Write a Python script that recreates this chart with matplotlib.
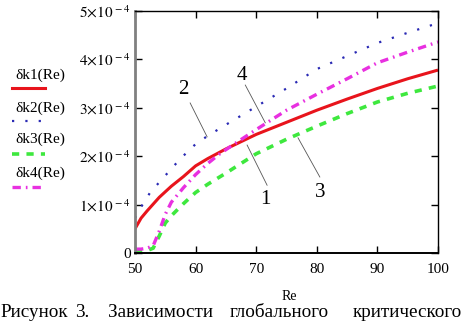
import matplotlib
matplotlib.use("Agg")
import matplotlib.pyplot as plt
from matplotlib.lines import Line2D
from matplotlib.ticker import FuncFormatter

plt.rcParams['font.family'] = ['Liberation Serif', 'DejaVu Serif']
plt.rcParams['mathtext.fontset'] = 'stix'

# curve values (units of 1e-4)
re1 = [50, 51, 52, 54, 56, 58, 60, 62, 65, 70, 75, 80, 85, 90, 95, 100]
dk1 = [0.50, 0.72, 0.87, 1.15, 1.38, 1.58, 1.80, 1.95, 2.15, 2.45, 2.70, 2.95, 3.18, 3.40, 3.60, 3.78]

re2 = [50, 51, 52.5, 55, 57.5, 60, 62, 65, 69, 75, 80, 85, 90, 95, 100]
dk2 = [0.72, 0.95, 1.25, 1.60, 1.95, 2.25, 2.42, 2.65, 2.95, 3.40, 3.80, 4.07, 4.34, 4.55, 4.75]

re3 = [50, 51, 52, 53, 54, 55, 56, 58, 60, 62, 65, 70, 75, 80, 85, 90, 95, 100]
dk3 = [0.03, 0.03, 0.05, 0.10, 0.35, 0.62, 0.77, 1.02, 1.25, 1.42, 1.65, 2.05, 2.35, 2.62, 2.88, 3.12, 3.30, 3.45]

re4 = [50, 51, 52, 53, 54, 55, 56, 57, 58, 60, 62, 64, 66, 70, 75, 80, 85, 90, 95, 100]
dk4 = [0.08, 0.08, 0.10, 0.15, 0.45, 0.80, 1.05, 1.20, 1.35, 1.62, 1.85, 2.05, 2.22, 2.55, 2.95, 3.28, 3.60, 3.93, 4.15, 4.36]

x_ticks = [50, 60, 70, 80, 90, 100]
y_ticks = [0, 1, 2, 3, 4, 5]
legend_labels = ['δk1(Re)', 'δk2(Re)', 'δk3(Re)', 'δk4(Re)']
caption_words = ['Рисунок', '3.', 'Зависимости', 'глобального', 'критического']

# (label, text position, line start, line end) in data units
callouts = [
    ('2', (57.9, 3.37), (59.1, 3.10), (61.9, 2.40)),
    ('4', (67.7, 3.66), (68.2, 3.47), (71.5, 2.69)),
    ('1', (71.5, 1.10), (71.8, 1.40), (68.5, 2.23)),
    ('3', (80.5, 1.24), (80.5, 1.57), (76.9, 2.38)),
]

red = '#e8141c'
blue = '#2a2ab4'
green = '#3ee83e'
magenta = '#e830e0'

fig = plt.figure(figsize=(4.64, 3.28), dpi=100)
ax = fig.add_axes([135 / 464, 75 / 328, 303 / 464, 242 / 328])

scale = 1e-4
ax.plot(re1, [v * scale for v in dk1], color=red, lw=2.2, solid_capstyle='butt')
ax.plot(re2, [v * scale for v in dk2], color=blue, lw=1.6, linestyle=(0, (1, 5)))
ax.plot(re3, [v * scale for v in dk3], color=green, lw=2.6, linestyle=(0, (2, 2)))
ax.plot(re4, [v * scale for v in dk4], color=magenta, lw=2.4, linestyle=(0, (2.5, 1.5, 0.5, 1.5)))

for lab, tpos, p0, p1 in callouts:
    ax.text(tpos[0], tpos[1] * scale, lab, fontsize=15, ha='center', va='center')
    ax.plot([p0[0], p1[0]], [p0[1] * scale, p1[1] * scale], color='#555555', lw=0.6)

ax.set_xlim(50, 100)
ax.set_ylim(0, 5e-4)
ax.set_xticks(x_ticks)
ax.set_yticks([v * scale for v in y_ticks])


def y_fmt(v, pos):
    n = int(round(v / scale))
    if n == 0:
        return '0'
    return r'$%d{\times}10^{\,-4}$' % n


ax.yaxis.set_major_formatter(FuncFormatter(y_fmt))
ax.tick_params(direction='in', top=True, right=True, length=5, width=1, labelsize=11)
ax.tick_params(axis='x', pad=7)
ax.tick_params(axis='y', pad=3)
for side in ['top', 'right', 'bottom']:
    ax.spines[side].set_color('black')
    ax.spines[side].set_linewidth(1.0)
ax.spines['bottom'].set_linewidth(1.4)
ax.spines['left'].set_color('#808080')
ax.spines['left'].set_linewidth(2.0)

fig.text(289 / 464, 1 - 296 / 328, 'Re', fontsize=10, ha='center', va='center')

# legend at the left, label above its line sample
colors = [red, blue, green, magenta]
styles = ['-', (0, (1, 5)), (0, (2, 2)), (0, (2.5, 1.5, 0.5, 1.5))]
widths = [2.2, 1.6, 2.6, 2.4]
text_y = [75, 108, 139, 173]
line_y = [88, 121, 154, 187]
for lab, c, s, w, ty, ly in zip(legend_labels, colors, styles, widths, text_y, line_y):
    fig.text(15 / 464, 1 - ty / 328, lab, fontsize=11, ha='left', va='center')
    fig.add_artist(Line2D([12 / 464, 45 / 464], [1 - ly / 328, 1 - ly / 328],
                          color=c, linestyle=s, lw=w, transform=fig.transFigure))

# justified caption line, last word flush right
word_x = [0, 75, 108, 230, 462]
word_ha = ['left', 'left', 'left', 'left', 'right']
for wd, wx, ha in zip(caption_words, word_x, word_ha):
    fig.text(wx / 464, 1 - 317 / 328, wd, fontsize=13.8, ha=ha, va='baseline')

fig.savefig('out.png', dpi=100)
